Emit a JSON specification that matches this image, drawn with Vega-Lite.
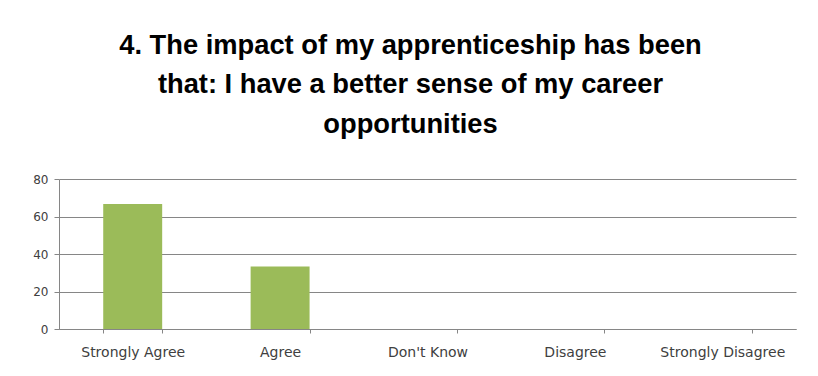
{
  "$schema": "https://vega.github.io/schema/vega-lite/v6.json",
  "width": 737,
  "height": 150,
  "autosize": {"type": "none"},
  "padding": {"left": 59, "top": 179, "right": 22, "bottom": 47},
  "background": "white",
  "title": {
    "text": ["4. The impact of my apprenticeship has been", "that: I have a better sense of my career", "opportunities"],
    "font": "Liberation Sans",
    "fontSize": 27.3,
    "fontWeight": "bold",
    "color": "#000000",
    "lineHeight": 39.5,
    "anchor": "middle",
    "dx": -17,
    "offset": 35
  },
  "data": {
    "values": [
      {"response": "Strongly Agree", "percent": 66.7},
      {"response": "Agree", "percent": 33.3},
      {"response": "Don't Know", "percent": 0},
      {"response": "Disagree", "percent": 0},
      {"response": "Strongly Disagree", "percent": 0}
    ]
  },
  "mark": {"type": "bar", "color": "#9BBB59"},
  "encoding": {
    "x": {
      "field": "response",
      "type": "nominal",
      "sort": null,
      "scale": {"paddingInner": 0.6, "paddingOuter": 0.3},
      "axis": {
        "title": null,
        "labelAngle": 0,
        "labelFont": "DejaVu Sans",
        "labelFontSize": 14,
        "labelColor": "#404040",
        "labelPadding": 12,
        "tickBand": "extent",
        "tickSize": 4,
        "tickColor": "#868686",
        "domainColor": "#868686",
        "grid": false
      }
    },
    "y": {
      "field": "percent",
      "type": "quantitative",
      "scale": {"domain": [0, 80]},
      "axis": {
        "title": null,
        "values": [0, 20, 40, 60, 80],
        "labelFont": "DejaVu Sans",
        "labelFontSize": 12,
        "labelColor": "#404040",
        "labelPadding": 6,
        "tickSize": 5,
        "tickColor": "#868686",
        "domainColor": "#868686",
        "gridColor": "#868686",
        "gridOpacity": 1
      }
    }
  },
  "config": {"view": {"stroke": null}}
}
